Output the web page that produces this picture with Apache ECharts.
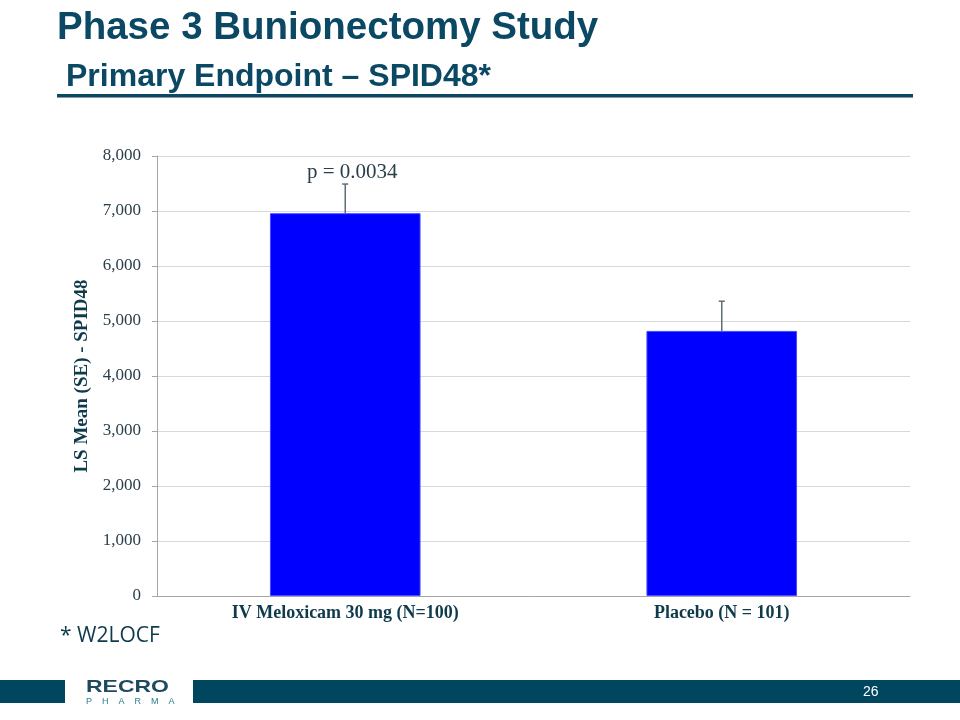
<!DOCTYPE html>
<html><head><meta charset="utf-8">
<script src="https://cdn.jsdelivr.net/npm/echarts@6/dist/echarts.min.js"></script>
<style>html,body{margin:0;padding:0;background:#fff}#c{width:960px;height:720px}</style>
</head><body><div id="c"></div>
<script>
const categories = ['IV Meloxicam 30 mg (N=100)', 'Placebo (N = 101)'];
const lsMean = [6960, 4820];
const se = [530, 540];
const pLabels = ['p = 0.0034', ''];
const yTicks = [0, 1000, 2000, 3000, 4000, 5000, 6000, 7000, 8000];

const chart = echarts.init(document.getElementById('c'));
const dark = '#0b4863';
const serif = '"Liberation Serif","DejaVu Serif",serif';
const errData = categories.map((c, i) => [i, lsMean[i], lsMean[i] + se[i], pLabels[i]]);

chart.setOption({
  animation: false,
  grid: {left: 157, right: 50, top: 156, bottom: 124},
  xAxis: {
    type: 'category', data: categories,
    axisLine: {lineStyle: {color: '#a6a6a6', width: 1}},
    axisTick: {show: false},
    axisLabel: {fontFamily: serif, fontWeight: 'bold', fontSize: 18, color: '#0f3a4c', margin: 8}
  },
  yAxis: {
    type: 'value', min: yTicks[0], max: yTicks[yTicks.length - 1], interval: 1000,
    name: 'LS Mean (SE) - SPID48', nameLocation: 'middle', nameGap: 57,
    nameTextStyle: {fontFamily: serif, fontWeight: 'bold', fontSize: 19, color: '#0f3a4c'},
    axisLine: {show: true, lineStyle: {color: '#a6a6a6'}},
    axisTick: {show: true, length: 5, lineStyle: {color: '#a6a6a6'}},
    splitLine: {lineStyle: {color: '#d9d9d9'}},
    axisLabel: {fontFamily: serif, fontSize: 17, color: '#2a3f4a', margin: 16,
      formatter: v => v.toLocaleString('en-US')}
  },
  series: [
    {
      type: 'bar', data: lsMean, barWidth: '40%',
      itemStyle: {color: '#0000ff', borderColor: '#4a4aff', borderWidth: 1}
    },
    {
      type: 'custom', data: errData, z: 10,
      renderItem: function (params, api) {
        const x = api.value(0);
        const lo = api.coord([x, api.value(1)]);
        const hi = api.coord([x, api.value(2)]);
        const children = [
          {type: 'line', shape: {x1: lo[0], y1: lo[1], x2: hi[0], y2: hi[1]}, style: {stroke: '#5f6e74', lineWidth: 1.5}},
          {type: 'line', shape: {x1: hi[0] - 3, y1: hi[1], x2: hi[0] + 3, y2: hi[1]}, style: {stroke: '#5f6e74', lineWidth: 1.5}}
        ];
        const lbl = api.value(3);
        if (lbl) {
          children.push({type: 'text', style: {text: lbl, x: hi[0] + 7, y: hi[1] - 1, align: 'center', verticalAlign: 'bottom',
            font: '21px ' + serif, fill: '#2a3f4a'}});
        }
        return {type: 'group', children: children};
      }
    }
  ],
  graphic: [
    {type: 'text', left: 57, top: 9, style: {text: 'Phase 3 Bunionectomy Study', font: 'bold 38.5px "Liberation Sans", Arial, sans-serif', fill: dark}},
    {type: 'text', left: 66, top: 61, style: {text: 'Primary Endpoint – SPID48*', font: 'bold 32px "Liberation Sans", Arial, sans-serif', fill: dark}},
    {type: 'rect', shape: {x: 57, y: 96, width: 856, height: 2}, style: {fill: '#8a9aa3'}},
    {type: 'rect', shape: {x: 57, y: 94, width: 856, height: 3}, style: {fill: dark}},
    {type: 'text', left: 60, top: 626, style: {text: '* W2LOCF', font: '21px "Open Sans","Liberation Sans",sans-serif', fill: '#0f3a4c'}},
    {type: 'rect', shape: {x: 0, y: 680, width: 65, height: 23}, style: {fill: '#00465e'}},
    {type: 'rect', shape: {x: 193, y: 680, width: 767, height: 23}, style: {fill: '#00465e'}},
    {type: 'text', left: 863, top: 685, style: {text: '26', font: '14px "Liberation Sans", Arial, sans-serif', fill: '#ffffff'}},
    {type: 'text', left: 86, top: 679, style: {text: 'RECRO', font: 'bold 17px "Liberation Sans", Arial, sans-serif', fill: '#1d4a5e'}, scaleX: 1.35},
    {type: 'text', left: 86, top: 697, style: {text: 'P    H    A    R    M    A', font: '9px "Liberation Sans", Arial, sans-serif', fill: '#2a7f8f'}}
  ]
});
</script></body></html>
